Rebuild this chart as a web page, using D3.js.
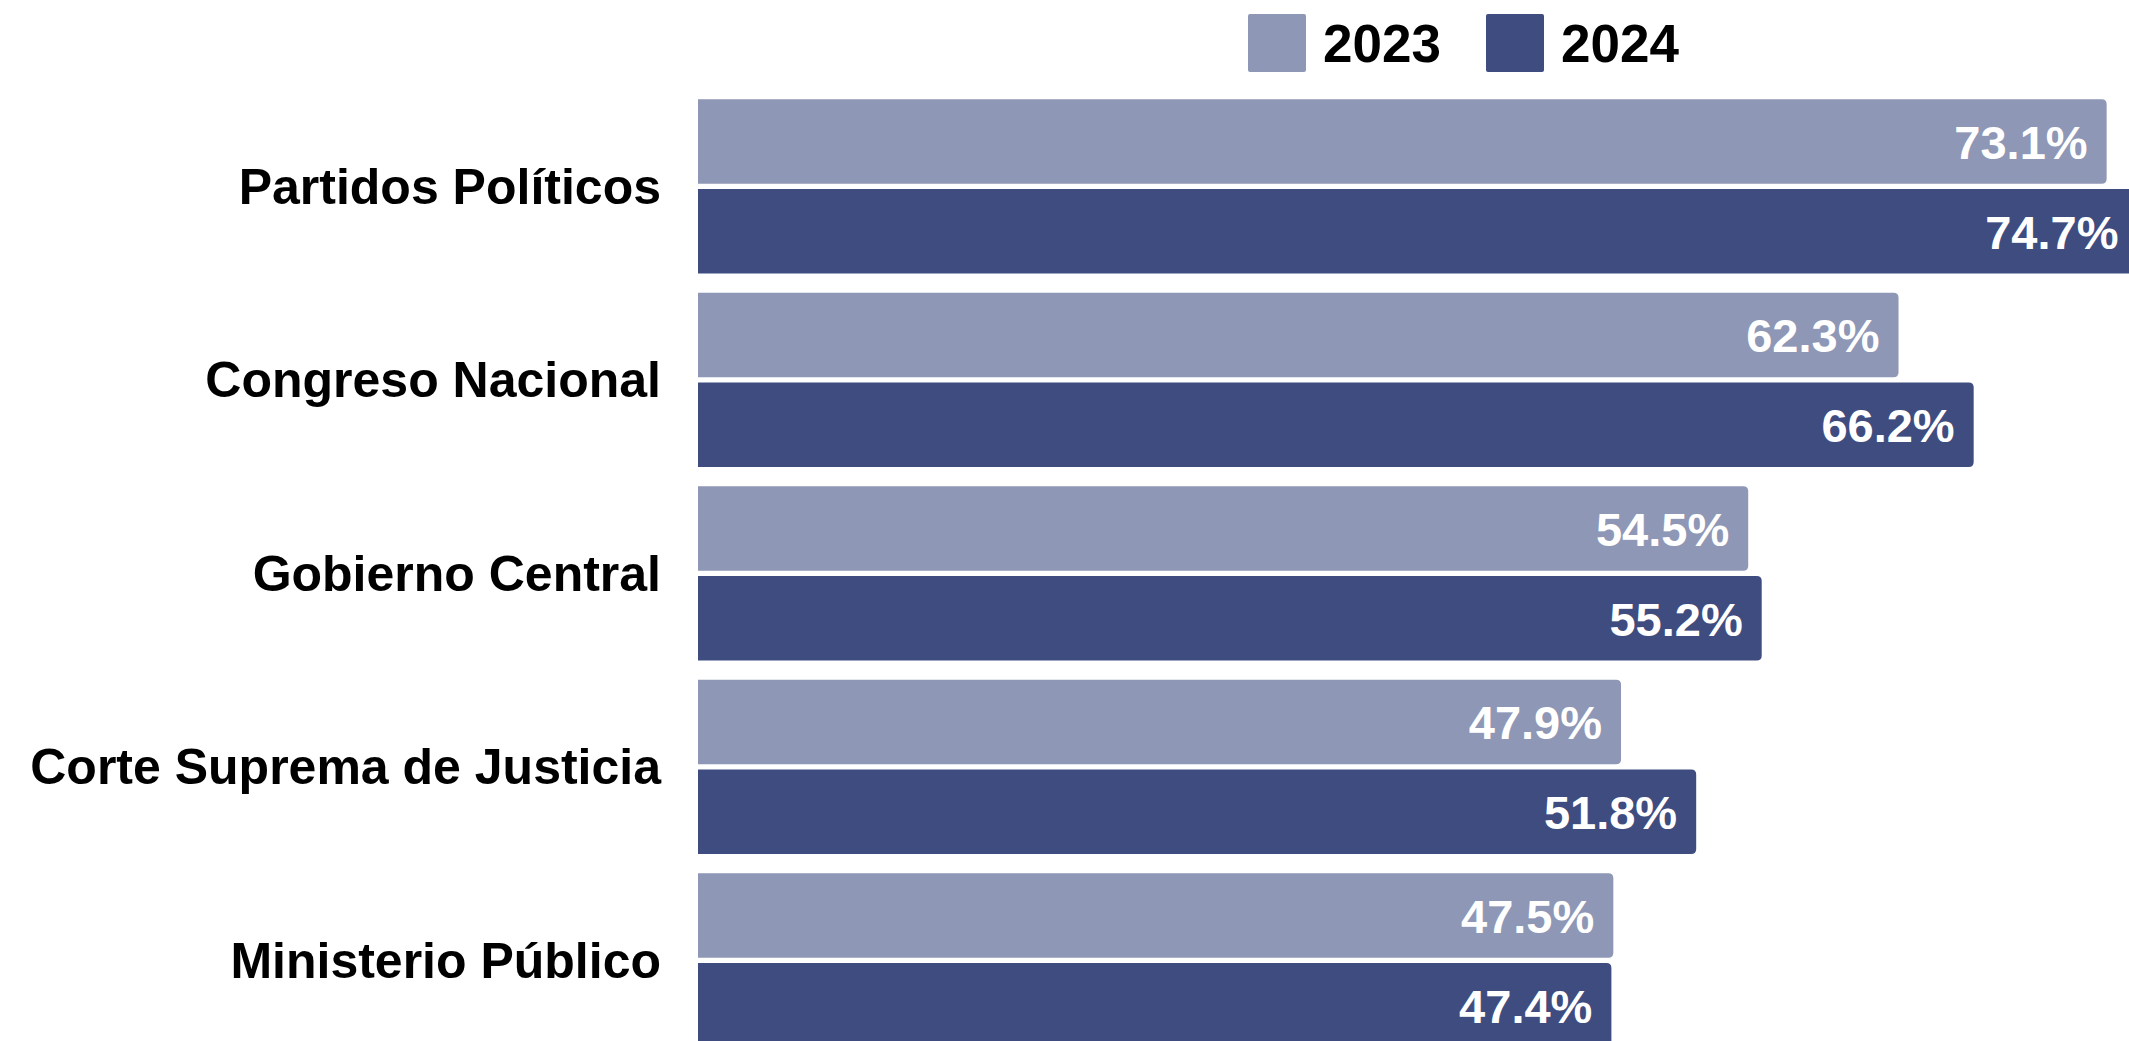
<!DOCTYPE html>
<html>
<head>
<meta charset="utf-8">
<script src="https://cdn.jsdelivr.net/npm/d3@7"></script>
<style>
  html, body { margin: 0; padding: 0; background: #ffffff; overflow: hidden; }
  svg { display: block; }
  text { font-family: "Liberation Sans", Arial, Helvetica, sans-serif; font-weight: bold; }
</style>
</head>
<body>
<div id="chart"></div>
<script>
const categories = ["Partidos Políticos", "Congreso Nacional", "Gobierno Central", "Corte Suprema de Justicia", "Ministerio Público"];
const years = ["2023", "2024"];
const values2023 = [73.1, 62.3, 54.5, 47.9, 47.5];
const values2024 = [74.7, 66.2, 55.2, 51.8, 47.4];
const colors = ["#8e97b5", "#3f4c7f"];

const W = 2129, H = 1041;
const svg = d3.select("#chart").append("svg").attr("width", W).attr("height", H);

const x = d3.scaleLinear().domain([0, 100]).range([698, 698 + 1927]);
const y = d3.scaleBand().domain(categories).range([99.3, 99.3 + 4.9 * 193.5]).paddingInner(0.1).paddingOuter(0);
const yInner = d3.scaleBand().domain(years).range([0, y.bandwidth()]).paddingInner(0.056);
const color = d3.scaleOrdinal().domain(years).range(colors);

const rows = [];
categories.forEach((c, i) => {
  rows.push({cat: c, year: "2023", v: values2023[i]});
  rows.push({cat: c, year: "2024", v: values2024[i]});
});

function barPath(x0, y0, w, h, r) {
  return `M${x0},${y0} H${x0 + w - r} Q${x0 + w},${y0} ${x0 + w},${y0 + r} V${y0 + h - r} Q${x0 + w},${y0 + h} ${x0 + w - r},${y0 + h} H${x0} Z`;
}

const g = svg.append("g");
g.selectAll("path.bar").data(rows).enter().append("path")
  .attr("class", "bar")
  .attr("d", d => barPath(x(0), y(d.cat) + yInner(d.year), x(d.v) - x(0), yInner.bandwidth(), 5))
  .attr("fill", d => color(d.year));

g.selectAll("text.val").data(rows).enter().append("text")
  .attr("class", "val")
  .attr("x", d => x(d.v) - 19)
  .attr("y", d => y(d.cat) + yInner(d.year) + yInner.bandwidth() / 2)
  .attr("dy", "0.37em")
  .attr("text-anchor", "end")
  .attr("fill", "#ffffff")
  .attr("font-size", 47)
  .text(d => d.v.toFixed(1) + "%");

// category labels
svg.append("g").selectAll("text").data(categories).enter().append("text")
  .attr("x", 661)
  .attr("y", d => y(d) + y.bandwidth() / 2)
  .attr("dy", "0.35em")
  .attr("text-anchor", "end")
  .attr("fill", "#000000")
  .attr("font-size", 50)
  .text(d => d);

// legend
const legendX = [1248, 1486];
const lg = svg.append("g").selectAll("g").data(years).enter().append("g")
  .attr("transform", (d, i) => `translate(${legendX[i]},14)`);
lg.append("rect").attr("width", 58).attr("height", 58).attr("rx", 2).attr("fill", d => color(d));
lg.append("text").attr("x", 75).attr("y", 29).attr("dy", "0.36em")
  .attr("font-size", 53).attr("fill", "#000000").text(d => d);
</script>
</body>
</html>
